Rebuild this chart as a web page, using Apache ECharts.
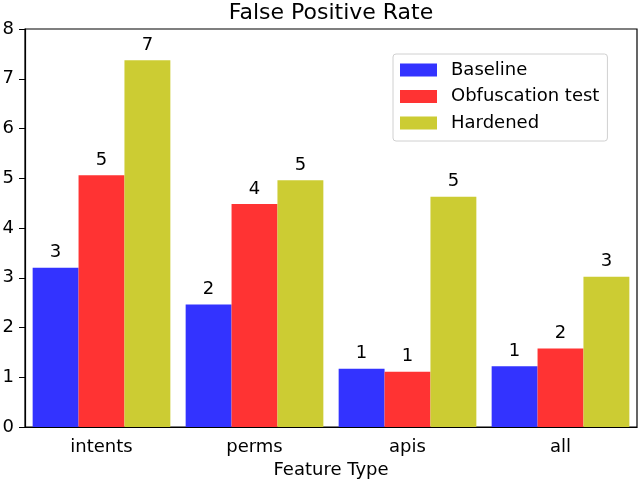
<!DOCTYPE html>
<html>
<head>
<meta charset="utf-8">
<script src="https://cdn.jsdelivr.net/npm/echarts@6/dist/echarts.min.js"></script>
<style>html,body{margin:0;padding:0;background:#fff}#c{width:640px;height:484px}</style>
</head>
<body>
<div id="c"></div>
<script>
const categories = ['intents', 'perms', 'apis', 'all'];
const baseline = [3.20, 2.46, 1.17, 1.22];
const obfuscation = [5.06, 4.48, 1.11, 1.58];
const hardened = [7.37, 4.96, 4.63, 3.02];
const yTicks = [0, 1, 2, 3, 4, 5, 6, 7, 8];

const FONT = 'DejaVu Sans';
const chart = echarts.init(document.getElementById('c'), null, {renderer: 'canvas'});
function mk(name, data, color) {
  return {
    name: name, type: 'bar', data: data, barGap: '0%', barCategoryGap: '10%',
    itemStyle: {color: color},
    label: {show: true, position: 'top', distance: 6, color: '#000', fontFamily: FONT, fontSize: 18,
      formatter: p => String(Math.round(p.value))}
  };
}
chart.setOption({
  animation: false,
  backgroundColor: '#fff',
  title: {text: 'False Positive Rate', left: 326, textAlign: 'center', top: -3,
    textStyle: {fontFamily: FONT, fontSize: 22, fontWeight: 'normal', color: '#000'}},
  legend: {
    data: ['Baseline', 'Obfuscation test', 'Hardened'],
    orient: 'vertical', left: 393, top: 54,
    itemWidth: 37, itemHeight: 13, itemGap: 8.5,
    padding: [7, 8, 9, 7],
    borderColor: '#d0d0d0', borderWidth: 1, borderRadius: 3,
    icon: 'rect',
    textStyle: {fontFamily: FONT, fontSize: 18, lineHeight: 18, color: '#000', padding: [0, 0, 0, 9]}
  },
  grid: {left: 25, right: 3, top: 29, bottom: 57, containLabel: false, outerBoundsMode: 'none',
    show: true, borderColor: '#000', borderWidth: 1.2},
  xAxis: {
    type: 'category', data: categories,
    name: 'Feature Type', nameLocation: 'middle', nameGap: 34,
    nameTextStyle: {fontFamily: FONT, fontSize: 18, color: '#000'},
    axisLine: {lineStyle: {color: '#000', width: 1.2}},
    axisTick: {alignWithLabel: true, length: 6, lineStyle: {color: '#000'}},
    axisLabel: {fontFamily: FONT, fontSize: 18, color: '#000', margin: 11}
  },
  yAxis: {
    type: 'value', min: yTicks[0], max: yTicks[yTicks.length - 1], interval: 1,
    axisLine: {show: true, lineStyle: {color: '#000', width: 1.2}},
    axisTick: {show: true, length: 6, lineStyle: {color: '#000'}},
    splitLine: {show: false},
    axisLabel: {fontFamily: FONT, fontSize: 18, color: '#000', margin: 11}
  },
  series: [
    mk('Baseline', baseline, '#3333ff'),
    mk('Obfuscation test', obfuscation, '#ff3333'),
    mk('Hardened', hardened, '#cccc33')
  ]
});
</script>
</body>
</html>
